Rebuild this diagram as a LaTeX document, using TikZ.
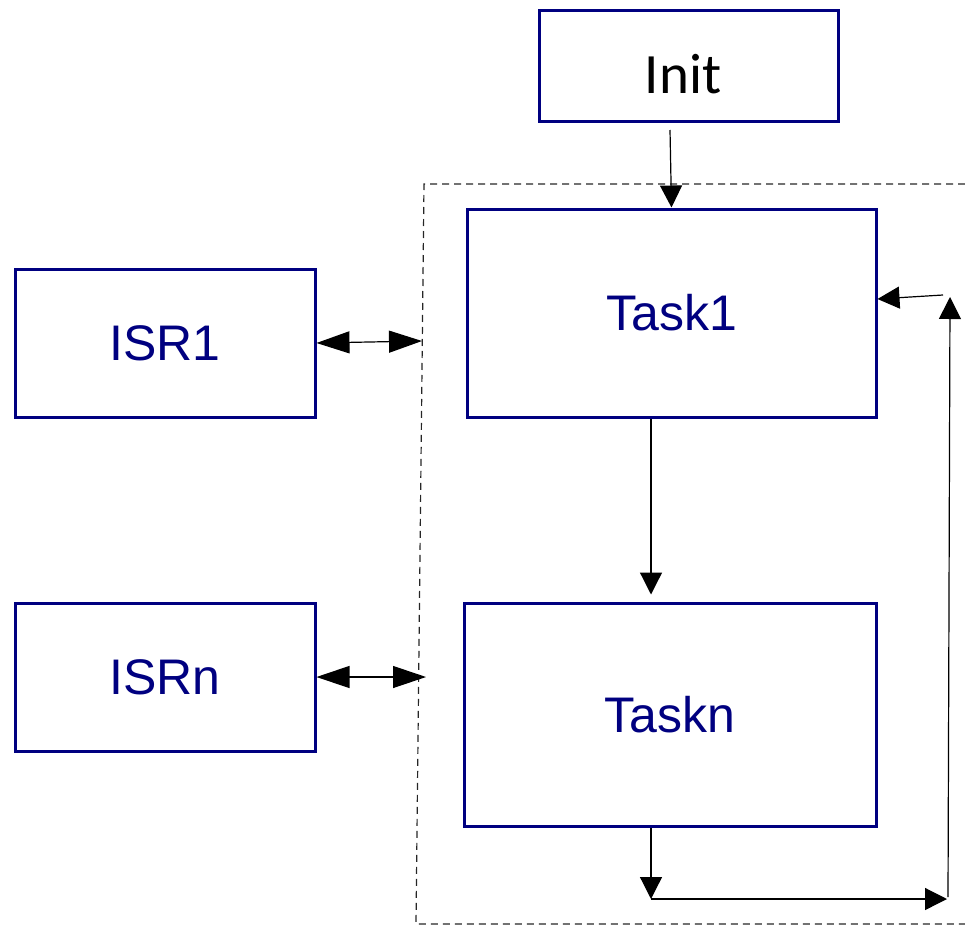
\documentclass[tikz,border=0pt]{standalone}
\usepackage{fontspec}
\setmainfont{Liberation Sans}
\newfontfamily\initfont{Carlito}
\usetikzlibrary{arrows.meta}

\definecolor{boxnavy}{RGB}{0,0,128}

\tikzset{
  blockbox/.style={draw=boxnavy, line width=3pt, inner sep=0pt, text=boxnavy,
    font=\fontsize{50}{50}\selectfont},
  flow/.style={line width=1.2pt, -{Triangle[length=22pt,width=22pt]}},
  link/.style={line width=1.2pt, {Triangle[length=33pt,width=22pt]}-{Triangle[length=33pt,width=22pt]}},
  groupframe/.style={line width=1.2pt, black!85, dash pattern=on 7pt off 5pt}
}

\begin{document}
\begin{tikzpicture}[x=1pt, y=-1pt]
  \useasboundingbox (0,0) rectangle (965,926);

  % dashed frame around the task group (open to the right)
  \draw[groupframe] (965,184) -- (424,184) -- (416,924) -- (965,924);

  % blocks
  \node[blockbox, minimum width=299pt, minimum height=111pt] (init) at (688.5,65.5) {};
  \node[font=\initfont\fontsize{57}{57}\selectfont, text=black] (initlabel) at (683,74) {Init};
  \node[blockbox, minimum width=409pt, minimum height=208pt] (task1) at (671.5,313) {Task1};
  \node[blockbox, minimum width=412pt, minimum height=223pt] (taskn) at (670,714.5) {Taskn};
  \node[blockbox, minimum width=300pt, minimum height=148pt] (isr1) at (165,343) {ISR1};
  \node[blockbox, minimum width=300pt, minimum height=148pt] (isrn) at (165,677) {ISRn};

  % free ends of the connectors
  \coordinate (initout) at (670,130);
  \coordinate (isr1in) at (422,341);
  \coordinate (isrnin) at (426,677);
  \coordinate (loopa) at (651,899);
  \coordinate (loopb) at (947,899);
  \coordinate (loopc) at (948,897);
  \coordinate (loopd) at (950,297);
  \coordinate (loope) at (943,295);

  % connectors
  \draw[flow] (initout) -- (task1.north);
  \draw[flow] ([xshift=-20.5pt]task1.south) -- ([xshift=-19pt,yshift=7pt]taskn.north);
  \draw[flow] ([xshift=-19pt]taskn.south) -- (loopa);
  \draw[flow] (loopa) -- (loopb);
  \draw[flow] (loopc) -- (loopd);
  \draw[flow] (loope) -- ([yshift=14pt]task1.east);
  \draw[link] (isr1.east) -- (isr1in);
  \draw[link] (isrn.east) -- (isrnin);
\end{tikzpicture}
\end{document}
